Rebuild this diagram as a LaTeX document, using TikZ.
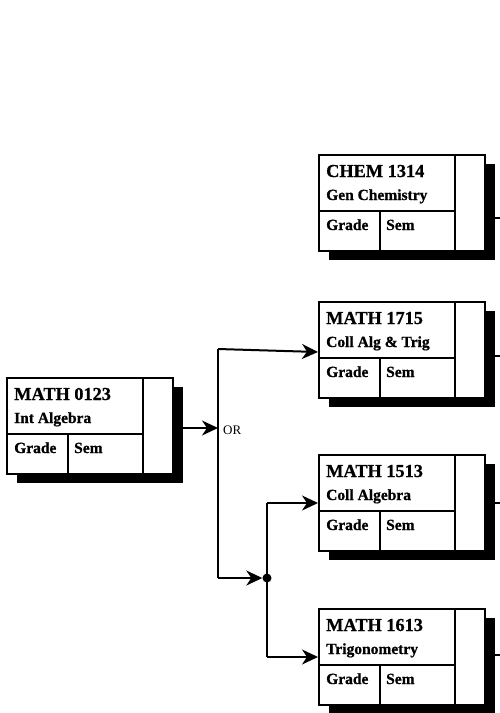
\documentclass[tikz,border=0pt]{standalone}
\usepackage{fontspec}
\setmainfont{Liberation Serif}
\newfontfamily\boxfont{Liberation Serif}
\newfontfamily\boxbold[FakeBold=0.8]{Liberation Serif Bold}
\usetikzlibrary{arrows.meta,shadows,calc}
\tikzset{
  cbox/.style={draw, line width=2pt, fill=white, anchor=north west,
    minimum width=166pt, minimum height=96pt, inner sep=0pt,
    drop shadow={shadow xshift=10pt, shadow yshift=-9pt, fill=black, opacity=1}},
  inner/.style={line width=2pt},
  titletext/.style={anchor=base west, inner sep=0pt, font=\boxbold\fontsize{18.3}{21}\selectfont},
  subtext/.style={anchor=base west, inner sep=0pt, font=\boxbold\fontsize{15.5}{18}\selectfont},
  conn/.style={line width=2pt},
  arr/.style={line width=2pt, -{Stealth[length=16pt, width=15pt, inset=5pt]}},
  jdot/.style={circle, fill=black, inner sep=0pt, minimum size=9pt},
  ortext/.style={anchor=west, inner sep=0pt, font=\boxfont\fontsize{13}{15}\selectfont}
}
\newcommand\coursebox[5]{%
  \node[cbox] (#1) at (#2,#3) {};
  \draw[inner] ([xshift=137pt]#1.north west) -- ([xshift=137pt]#1.south west);
  \draw[inner] ([yshift=-57pt]#1.north west) -- ([xshift=137pt,yshift=-57pt]#1.north west);
  \draw[inner] ([xshift=62pt,yshift=-57pt]#1.north west) -- ([xshift=62pt]#1.south west);
  \node[titletext] (#1-t) at ([xshift=8pt,yshift=-23pt]#1.north west) {#4};
  \node[subtext] (#1-s) at ([xshift=8pt,yshift=-46pt]#1.north west) {#5};
  \node[subtext] (#1-g) at ([xshift=8pt,yshift=-76pt]#1.north west) {Grade};
  \node[subtext] (#1-m) at ([xshift=68pt,yshift=-76pt]#1.north west) {Sem};
}
\begin{document}
\begin{tikzpicture}[x=1pt,y=1pt]
\useasboundingbox (0,0) rectangle (500,-713);
% stubs on the right
\coordinate (s1) at (500,-218);
\coordinate (s2) at (500,-356);
\coordinate (s3) at (500,-503);
\coordinate (s4) at (500,-655);
\coursebox{chem}{318}{-154}{CHEM 1314}{Gen Chemistry}
\coursebox{m1715}{318}{-301}{MATH 1715}{Coll Alg \& Trig}
\coursebox{m1513}{318}{-454}{MATH 1513}{Coll Algebra}
\coursebox{m1613}{318}{-608}{MATH 1613}{Trigonometry}
\coursebox{m0123}{6}{-377}{MATH 0123}{Int Algebra}
\draw[conn] (chem.east |- s1) -- (s1);
\draw[conn] (m1715.east |- s2) -- (s2);
\draw[conn] (m1513.east |- s3) -- (s3);
\draw[conn] (m1613.east |- s4) -- (s4);
% connectors
\coordinate (top) at (218,-349);
\coordinate (mid) at (218,-428);
\coordinate (bot) at (218,-578);
\node[jdot] (dot) at (267,-578) {};
\coordinate (b1) at (267,-503);
\coordinate (b2) at (267,-657);
\draw[conn] (top) -- (bot);
\draw[arr] (m0123.east |- mid) -- (mid);
\draw[arr] (top) -- (m1715.west |- 0,-352);
\draw[arr] (bot) -- (dot.west);
\draw[conn] (b1) -- (b2);
\draw[arr] (b1) -- (b1 -| m1513.west);
\draw[arr] (b2) -- (b2 -| m1613.west);
\node[ortext] (or) at (223,-430) {OR};
\end{tikzpicture}
\end{document}
